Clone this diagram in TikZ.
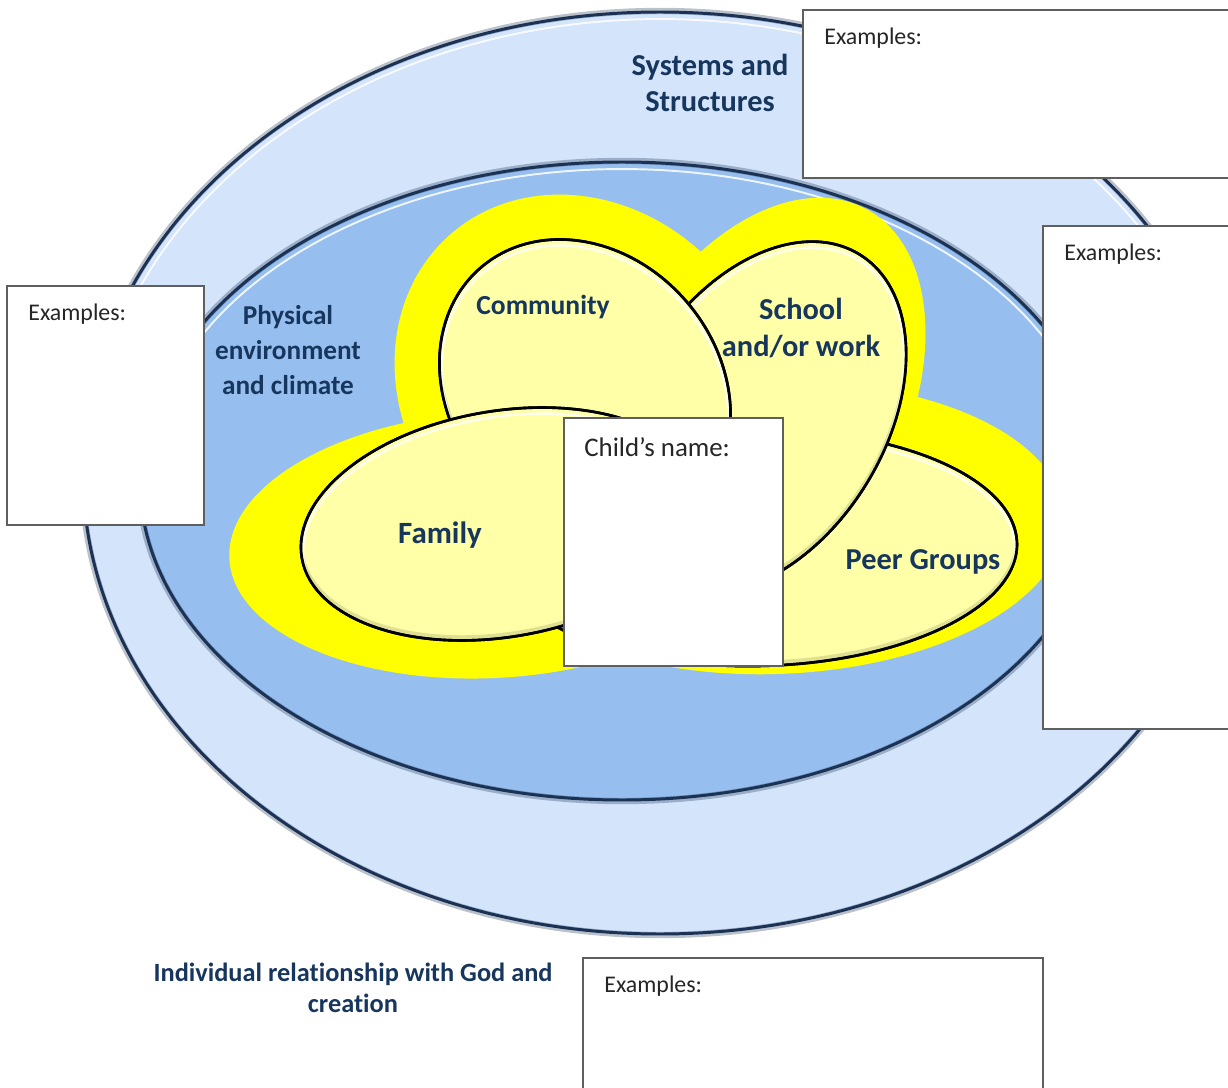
\documentclass[tikz,border=0pt]{standalone}
\usepackage{fontspec}
\setmainfont{Carlito}[Ligatures=NoCommon]
\definecolor{ringlight}{RGB}{211,228,251}
\definecolor{ringmid}{RGB}{150,191,240}
\definecolor{ringnavy}{RGB}{28,50,84}
\definecolor{blobyellow}{RGB}{255,255,0}
\definecolor{lobefill}{RGB}{255,255,168}
\definecolor{labelnavy}{RGB}{23,54,93}
\definecolor{boxgray}{RGB}{95,95,95}
\tikzset{
  ringsoft/.style={draw=ringnavy, draw opacity=0.3, line width=3.6pt},
  ringline/.style={draw=ringnavy, line width=1.7pt},
  shine/.style={draw=white, draw opacity=0.85, line width=1.1pt},
  blob/.style={fill=blobyellow},
  lobe/.style={fill=lobefill, draw=black, line width=1.5pt},
  lobeshade/.style={draw=black, draw opacity=0.12, line width=2.5pt},
  lobelight/.style={draw=white, draw opacity=0.8, line width=1.4pt},
  lbl/.style={text=labelnavy, align=center, inner sep=0pt,
    font=\bfseries\fontsize{17.3}{20.6}\selectfont},
  exbox/.style={fill=white, draw=boxgray, line width=0.8pt},
  extext/.style={inner sep=0pt, anchor=base west, text=black!85,
    font=\fontsize{13.6}{16}\selectfont},
}
% a yellow lobe: centre x, centre y, tilt, half-length, half-width
\newcommand\yellowlobe[5]{%
  \filldraw[lobe, rotate around={#3:(#1,#2)}] (#1,#2) ellipse [x radius=#4, y radius=#5];
  \begin{scope}
    \clip[rotate around={#3:(#1,#2)}] (#1,#2) ellipse [x radius=#4, y radius=#5];
    \draw[lobeshade, rotate around={#3:(#1,#2-3)}] (#1,#2-3) ellipse [x radius=#4, y radius=#5];
    \draw[lobelight, rotate around={#3:(#1,#2+4)}] (#1,#2+4) ellipse [x radius=#4-2, y radius=#5-2];
  \end{scope}
  \draw[lobe, fill=none, rotate around={#3:(#1,#2)}] (#1,#2) ellipse [x radius=#4, y radius=#5];
}
\begin{document}
\begin{tikzpicture}[x=0.02cm, y=-0.02cm]
\useasboundingbox (0,0) rectangle (1228,1088);

% outer ring: systems and structures
\fill[ringlight] (660,473) ellipse [x radius=577, y radius=461];
\draw[ringsoft] (660,473) ellipse [x radius=578, y radius=462];
\draw[ringline] (660,473) ellipse [x radius=577, y radius=461];
\draw[shine] plot[domain=195:345, samples=80] ({660+570*cos(\x)}, {473+454*sin(\x)});

% middle ring: physical environment
\fill[ringmid] (622,481) ellipse [x radius=482, y radius=319];
\draw[ringsoft] (622,481) ellipse [x radius=483, y radius=320];
\draw[ringline] (622,481) ellipse [x radius=482, y radius=319];
\draw[shine] plot[domain=195:345, samples=80] ({622+475*cos(\x)}, {481+312*sin(\x)});

% yellow halo behind the four lobes
\fill[blob, rotate around={3:(492,545)}] (492,545) ellipse [x radius=263, y radius=133];
\fill[blob, rotate around={-49.4:(585,389)}] (585,389) ellipse [x radius=205, y radius=179];
\fill[blob, rotate around={62:(758,412)}] (758,412) ellipse [x radius=230, y radius=145];
\fill[blob, rotate around={2:(775,528)}] (775,528) ellipse [x radius=290, y radius=146];

% the four lobes, back to front: peers, school, community, family
\yellowlobe{756}{548}{1}{261}{118}
\yellowlobe{759}{418}{58.4}{192}{126}
\yellowlobe{585}{389}{-49.4}{160}{134}
\yellowlobe{502}{524}{9.6}{203}{113}

% labels
\node[lbl] (systems) at (710,83) {Systems and\\Structures};
\node[lbl, font=\bfseries\fontsize{15.5}{19.8}\selectfont] (physical) at (288,350) {Physical\\environment\\and climate};
\node[lbl, font=\bfseries\fontsize{15.7}{19}\selectfont] (community) at (543,307) {Community};
\node[lbl] (school) at (801,328) {School\\and/or work};
\node[lbl, font=\bfseries\fontsize{17.6}{21}\selectfont] (family) at (440,535) {Family};
\node[lbl] (peers) at (923,562) {Peer Groups};
\node[lbl, font=\bfseries\fontsize{15}{17.6}\selectfont] (god) at (353,988) {Individual relationship with God and\\creation};

% note boxes
\path[exbox] (803,10) rectangle (1240,178);
\path[exbox] (1043,226) rectangle (1240,729);
\path[exbox] (7,286) rectangle (204,525);
\path[exbox] (564,418) rectangle (783,666);
\path[exbox] (583,958) rectangle (1043,1100);

\node[extext] (extop) at (824,45) {Examples:};
\node[extext] (exright) at (1064,260) {Examples:};
\node[extext] (exleft) at (28,320) {Examples:};
\node[extext] (exbottom) at (604,992) {Examples:};
\node[extext, font=\fontsize{15.3}{18}\selectfont] (child) at (584,456) {Child’s name:};
\end{tikzpicture}
\end{document}
